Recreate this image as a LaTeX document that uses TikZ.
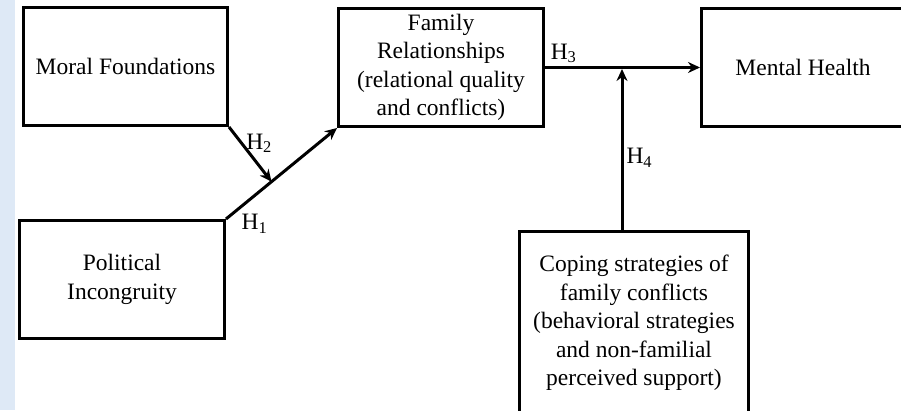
\documentclass[tikz,border=0pt]{standalone}
\usepackage{fontspec}
\setmainfont{Liberation Serif}
\usetikzlibrary{arrows.meta,calc}

\definecolor{stripblue}{RGB}{222,233,246}

\begin{document}
\begin{tikzpicture}[x=1pt,y=1pt,>={Stealth[length=12pt,width=11pt]},
    font=\fontsize{23.5}{28.5}\selectfont,
    box/.style={draw,line width=3pt,minimum width=205pt,minimum height=118pt,align=center,inner sep=0pt},
    link/.style={->,line width=3pt},
    hyp/.style={inner sep=3pt}]

    % Frame and left strip
    \clip (0,0) rectangle (901,410);
    \fill [stripblue] (0,0) rectangle (15,410);

    % Boxes
    \node [box,minimum width=204pt] (moral) at (125.5,343.5) {Moral Foundations};
    \node [box] (political) at (122,130.5) {Political\\Incongruity};
    \node [box] (family) at (441,342.5) {Family\\Relationships\\(relational quality\\and conflicts)};
    \node [box,minimum width=203pt] (mental) at (803,342.5) {Mental Health};
    \node [box,minimum width=229pt,minimum height=183pt] (coping) at (634,87)
        {Coping strategies of\\family conflicts\\(behavioral strategies\\and non-familial\\perceived support)};

    % Join points
    \coordinate (hmid) at ($(political.north east)!0.41!(family.south west)$);
    \coordinate (hfoot) at ([xshift=-12pt]coping.north);
    \coordinate (hjoin) at (hfoot |- family.east);

    % H1 and H2
    \draw [link] (political.north east) -- (family.south west)
        node [hyp,pos=0.1,below right] (h1) {H\textsubscript{1}};
    \draw [link] (moral.south east) -- (hmid)
        node [hyp,pos=0.3,right] (h2) {H\textsubscript{2}};

    % H3
    \draw [link] (family.east) -- (mental.west)
        node [hyp,pos=0.12,above] (h3) {H\textsubscript{3}};

    % H4 (moderation)
    \draw [link] (hfoot) -- ([yshift=-1.5pt]hjoin)
        node [hyp,pos=0.45,right] (h4) {H\textsubscript{4}};

\end{tikzpicture}
\end{document}
